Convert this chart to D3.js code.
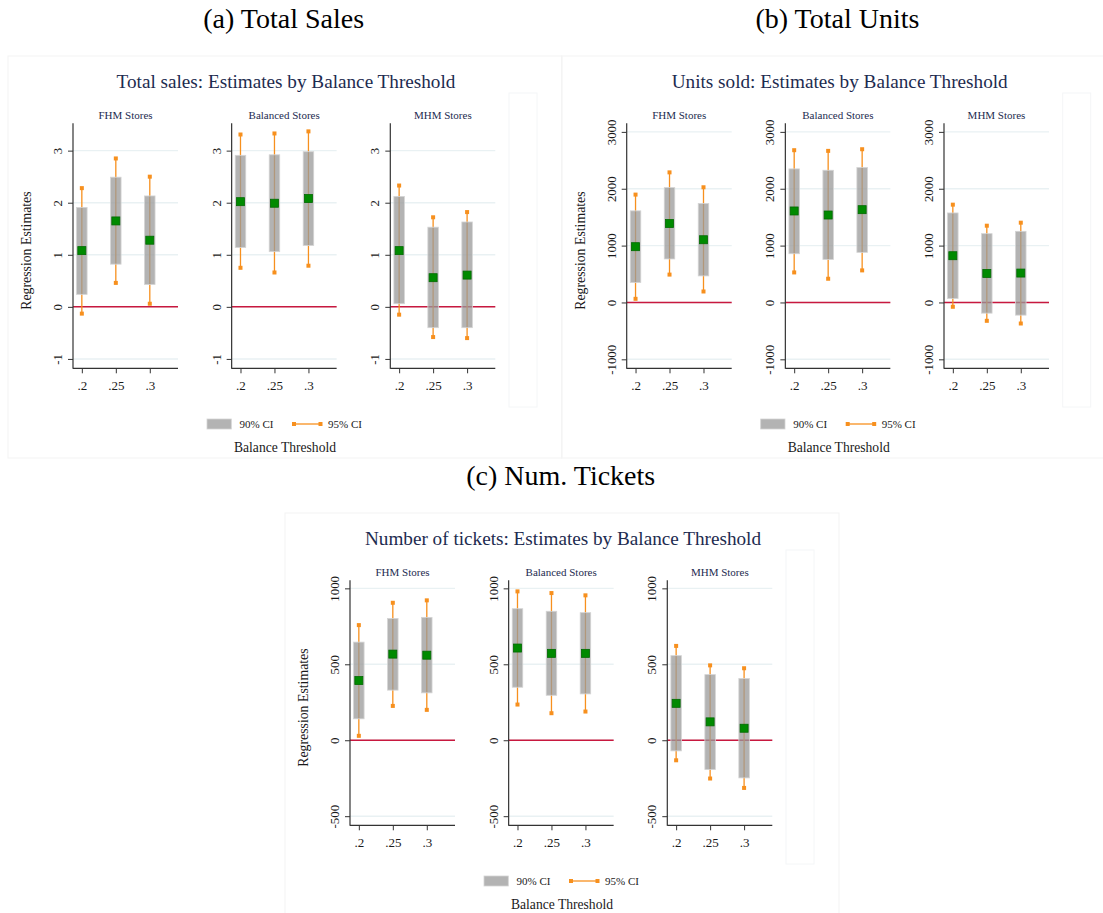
<!DOCTYPE html>
<html>
<head>
<meta charset="utf-8">
<script src="https://cdn.jsdelivr.net/npm/d3@7"></script>
<style>
  html, body { margin: 0; padding: 0; background: #ffffff; }
  svg { display: block; font-family: "Liberation Serif", "Times New Roman", serif; }
</style>
</head>
<body>
<svg id="chart" width="1103" height="913"></svg>
<script>
// Balance thresholds on the x axis and the three store groups
const thresholds = [0.2, 0.25, 0.3];
const thresholdLabels = [".2", ".25", ".3"];
const storeGroups = ["FHM Stores", "Balanced Stores", "MHM Stores"];

// Total sales: estimate, 90% and 95% intervals (rows = store group, cols = threshold)
const salesEst  = [[1.08, 1.65, 1.28], [2.02, 1.99, 2.08], [1.08, 0.56, 0.61]];
const salesLo90 = [[0.24, 0.82, 0.43], [1.14, 1.06, 1.18], [0.06, -0.40, -0.40]];
const salesHi90 = [[1.91, 2.49, 2.13], [2.91, 2.92, 2.98], [2.12, 1.53, 1.63]];
const salesLo95 = [[-0.13, 0.46, 0.06], [0.75, 0.66, 0.79], [-0.15, -0.58, -0.60]];
const salesHi95 = [[2.28, 2.85, 2.50], [3.31, 3.33, 3.37], [2.33, 1.72, 1.82]];
const salesTicks = [-1, 0, 1, 2, 3];
const salesRange = [-1.18, 3.525];

// Units sold
const unitsEst  = [[981, 1389, 1103], [1609, 1538, 1632], [822, 511, 517]];
const unitsLo90 = [[350, 765, 467], [857, 757, 881], [70, -188, -223]];
const unitsHi90 = [[1611, 2020, 1740], [2349, 2325, 2372], [1574, 1210, 1251]];
const unitsLo95 = [[64, 490, 193], [528, 417, 564], [-76, -323, -370]];
const unitsHi95 = [[1897, 2288, 2026], [2678, 2666, 2695], [1720, 1350, 1403]];
const unitsTicks = [-1000, 0, 1000, 2000, 3000];
const unitsRange = [-1158, 3151];

// Number of tickets
const ticketsEst  = [[393, 567, 560], [607, 572, 572], [243, 121, 79]];
const ticketsLo90 = [[141, 330, 312], [349, 296, 305], [-70, -193, -248]];
const ticketsHi90 = [[646, 802, 809], [866, 849, 840], [557, 432, 406]];
const ticketsLo95 = [[29, 226, 200], [235, 178, 189], [-132, -252, -314]];
const ticketsHi95 = [[758, 905, 921], [980, 969, 954], [621, 493, 474]];
const ticketsTicks = [-500, 0, 500, 1000];
const ticketsRange = [-560, 1053];

const panelLabels = ["(a) Total Sales", "(b) Total Units", "(c) Num. Tickets"];
const panelTitles = [
  "Total sales: Estimates by Balance Threshold",
  "Units sold: Estimates by Balance Threshold",
  "Number of tickets: Estimates by Balance Threshold"
];
const legendLabels = ["90% CI", "95% CI"];
const xAxisTitle = "Balance Threshold";
const yAxisTitle = "Regression Estimates";

const panels = [
  { est: salesEst, lo90: salesLo90, hi90: salesHi90, lo95: salesLo95, hi95: salesHi95, ticks: salesTicks, range: salesRange },
  { est: unitsEst, lo90: unitsLo90, hi90: unitsHi90, lo95: unitsLo95, hi95: unitsHi95, ticks: unitsTicks, range: unitsRange },
  { est: ticketsEst, lo90: ticketsLo90, hi90: ticketsHi90, lo95: ticketsLo95, hi95: ticketsHi95, ticks: ticketsTicks, range: ticketsRange }
];

// Layout
const panelOrigins = [[0, 0], [553.7, 0], [277, 457]];
const subplotX = [73, 231.65, 390.3];
const plotW = 105, plotTop = 123.3, plotBottom = 368.3;
const titleColor = "#1d2b4f";
const textColor = "#1a1a1a";
const orange = "#f7901e";
const boxColor = "#9a9a9a";

const svg = d3.select("#chart");

const x = d3.scaleLinear().domain([0.187, 0.3415]).range([0, plotW]);

panels.forEach((p, pi) => {
  const [ox, oy] = panelOrigins[pi];
  const g = svg.append("g").attr("transform", `translate(${ox},${oy})`);

  // faint graph-region outlines
  g.append("rect").attr("x", 8).attr("y", 56).attr("width", 554).attr("height", 402)
    .attr("fill", "none").attr("stroke", "#f3f3f3").attr("stroke-width", 1);
  g.append("rect").attr("x", 509).attr("y", 93).attr("width", 28).attr("height", 314)
    .attr("fill", "none").attr("stroke", "#f4f6f7").attr("stroke-width", 1);

  g.append("text").attr("x", 283.7).attr("y", 28.3).attr("text-anchor", "middle")
    .attr("font-size", 28).attr("fill", "#000").text(panelLabels[pi]);

  g.append("text").attr("x", 286).attr("y", 87.5).attr("text-anchor", "middle")
    .attr("font-size", 19.2).attr("fill", titleColor).text(panelTitles[pi]);

  g.append("text")
    .attr("transform", `translate(31,250.6) rotate(-90)`)
    .attr("text-anchor", "middle").attr("font-size", 13.8).attr("fill", textColor)
    .text(yAxisTitle);

  const y = d3.scaleLinear().domain(p.range).range([plotBottom, plotTop]);

  storeGroups.forEach((name, gi) => {
    const sg = g.append("g").attr("transform", `translate(${subplotX[gi]},0)`);

    sg.append("text").attr("x", plotW / 2).attr("y", 118.5).attr("text-anchor", "middle")
      .attr("font-size", 11).attr("fill", titleColor).text(name);

    // gridlines
    sg.selectAll("line.grid").data(p.ticks).join("line").attr("class", "grid")
      .attr("x1", 0).attr("x2", plotW)
      .attr("y1", d => y(d)).attr("y2", d => y(d))
      .attr("stroke", "#e9f1f3").attr("stroke-width", 1.4);

    // zero reference line
    sg.append("line").attr("x1", 0).attr("x2", plotW)
      .attr("y1", y(0)).attr("y2", y(0))
      .attr("stroke", "#c8183f").attr("stroke-width", 1.5);

    // y axis
    const yAxis = d3.axisLeft(y).tickValues(p.ticks).tickSize(5).tickPadding(3)
      .tickFormat(d => String(d));
    const ya = sg.append("g").call(yAxis);
    ya.select(".domain").remove();
    ya.selectAll(".tick line").attr("stroke", "#333").attr("stroke-width", 1);
    ya.selectAll(".tick text")
      .attr("x", null).attr("dy", null)
      .attr("transform", "translate(-11,0) rotate(-90)")
      .attr("text-anchor", "middle")
      .attr("font-family", "Liberation Serif, Times New Roman, serif")
      .attr("font-size", 12.8).attr("fill", textColor);

    // x axis
    const xAxis = d3.axisBottom(x).tickValues(thresholds).tickSize(5).tickPadding(3)
      .tickFormat((d, i) => thresholdLabels[i]);
    const xa = sg.append("g").attr("transform", `translate(0,${plotBottom})`).call(xAxis);
    xa.select(".domain").remove();
    xa.selectAll(".tick line").attr("stroke", "#333").attr("stroke-width", 1);
    xa.selectAll(".tick text")
      .attr("y", null).attr("dy", null)
      .attr("transform", "translate(0,21.7)")
      .attr("font-family", "Liberation Serif, Times New Roman, serif")
      .attr("font-size", 13).attr("fill", textColor);

    sg.append("line").attr("x1", 0).attr("x2", 0).attr("y1", plotTop).attr("y2", plotBottom + 0.5)
      .attr("stroke", "#333").attr("stroke-width", 1.2);
    sg.append("line").attr("x1", 0).attr("x2", plotW).attr("y1", plotBottom).attr("y2", plotBottom)
      .attr("stroke", "#333").attr("stroke-width", 1.2);

    const rows = thresholds.map((t, i) => ({
      t, est: p.est[gi][i], lo90: p.lo90[gi][i], hi90: p.hi90[gi][i],
      lo95: p.lo95[gi][i], hi95: p.hi95[gi][i]
    }));

    // 95% CI spikes with square caps
    sg.selectAll("line.ci95").data(rows).join("line").attr("class", "ci95")
      .attr("x1", d => x(d.t)).attr("x2", d => x(d.t))
      .attr("y1", d => y(d.lo95)).attr("y2", d => y(d.hi95))
      .attr("stroke", orange).attr("stroke-width", 1.3);
    const caps = rows.flatMap(d => [{ t: d.t, v: d.lo95 }, { t: d.t, v: d.hi95 }]);
    sg.selectAll("rect.cap").data(caps).join("rect").attr("class", "cap")
      .attr("x", d => x(d.t) - 2).attr("y", d => y(d.v) - 2)
      .attr("width", 4).attr("height", 4).attr("fill", orange);

    // 90% CI bars
    sg.selectAll("rect.ci90").data(rows).join("rect").attr("class", "ci90")
      .attr("x", d => x(d.t) - 5.25).attr("width", 10.5)
      .attr("y", d => y(d.hi90)).attr("height", d => y(d.lo90) - y(d.hi90))
      .attr("fill", boxColor).attr("fill-opacity", 0.75)
      .attr("stroke", "#d4d4d4").attr("stroke-width", 0.8);

    // point estimates
    sg.selectAll("rect.est").data(rows).join("rect").attr("class", "est")
      .attr("x", d => x(d.t) - 4).attr("y", d => y(d.est) - 4)
      .attr("width", 8).attr("height", 8)
      .attr("fill", "#008a00").attr("stroke", "#006a00").attr("stroke-width", 0.8);
  });

  // legend
  const lg = g.append("g");
  lg.append("rect").attr("x", 207).attr("y", 419).attr("width", 24.3).attr("height", 10)
    .attr("fill", boxColor).attr("fill-opacity", 0.75)
    .attr("stroke", "#d4d4d4").attr("stroke-width", 0.8);
  lg.append("text").attr("x", 239.5).attr("y", 428.3).attr("font-size", 11)
    .attr("fill", textColor).text(legendLabels[0]);
  lg.append("line").attr("x1", 294).attr("x2", 320.5).attr("y1", 424).attr("y2", 424)
    .attr("stroke", orange).attr("stroke-width", 1.3);
  [294, 320.5].forEach(cx => lg.append("rect").attr("x", cx - 2).attr("y", 422)
    .attr("width", 4).attr("height", 4).attr("fill", orange));
  lg.append("text").attr("x", 328).attr("y", 428.3).attr("font-size", 11)
    .attr("fill", textColor).text(legendLabels[1]);

  g.append("text").attr("x", 285).attr("y", 452).attr("text-anchor", "middle")
    .attr("font-size", 13.6).attr("fill", textColor).text(xAxisTitle);
});
</script>
</body>
</html>
